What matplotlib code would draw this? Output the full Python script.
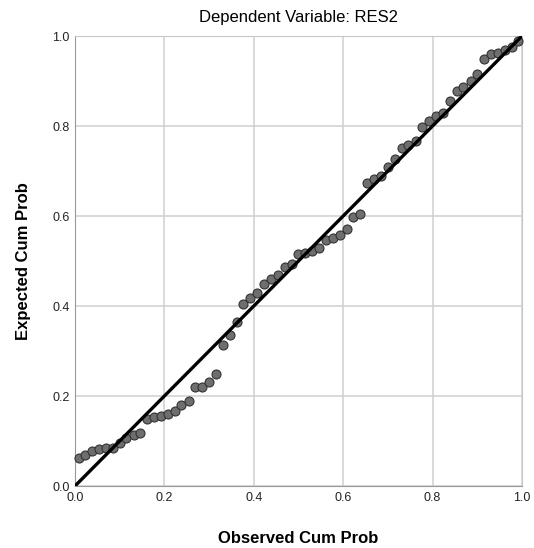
import matplotlib.pyplot as plt

plt.rcParams['font.family'] = ['Liberation Sans', 'DejaVu Sans']

observed = [0.008, 0.023, 0.038, 0.054, 0.069, 0.085, 0.100, 0.115, 0.131, 0.146,
            0.162, 0.177, 0.192, 0.208, 0.223, 0.238, 0.254, 0.269, 0.285, 0.300,
            0.315, 0.331, 0.346, 0.362, 0.377, 0.392, 0.408, 0.423, 0.438, 0.454,
            0.469, 0.485, 0.500, 0.515, 0.531, 0.546, 0.562, 0.577, 0.592, 0.608,
            0.623, 0.638, 0.654, 0.669, 0.685, 0.700, 0.715, 0.731, 0.746, 0.762,
            0.777, 0.792, 0.808, 0.823, 0.838, 0.854, 0.869, 0.885, 0.900, 0.915,
            0.931, 0.946, 0.962, 0.977, 0.992]
expected = [0.062, 0.070, 0.078, 0.082, 0.084, 0.085, 0.095, 0.106, 0.113, 0.117,
            0.150, 0.154, 0.156, 0.159, 0.167, 0.180, 0.189, 0.219, 0.221, 0.232,
            0.249, 0.313, 0.336, 0.365, 0.404, 0.417, 0.430, 0.448, 0.460, 0.469,
            0.486, 0.493, 0.516, 0.518, 0.523, 0.530, 0.546, 0.551, 0.558, 0.572,
            0.598, 0.604, 0.673, 0.682, 0.688, 0.710, 0.726, 0.752, 0.758, 0.767,
            0.797, 0.811, 0.823, 0.828, 0.856, 0.878, 0.887, 0.901, 0.915, 0.948,
            0.959, 0.962, 0.969, 0.976, 0.989]
ticks = [0.0, 0.2, 0.4, 0.6, 0.8, 1.0]
tick_labels = ['0.0', '0.2', '0.4', '0.6', '0.8', '1.0']

fig = plt.figure(figsize=(5.34, 5.48), dpi=100)
ax = fig.add_axes([0.1404, 0.1131, 0.8371, 0.8212])

ax.set_xlim(0, 1)
ax.set_ylim(0, 1)
ax.set_xticks(ticks)
ax.set_yticks(ticks)
ax.set_xticklabels(tick_labels)
ax.set_yticklabels(tick_labels)
ax.tick_params(length=0, labelsize=9, colors='#222222', pad=4)
ax.grid(True, color='#d0d0d0', linewidth=1.1)
ax.set_axisbelow(True)
for s in ax.spines.values():
    s.set_color('#c8c8c8')
ax.spines['left'].set_color('#999999')
ax.spines['bottom'].set_color('#999999')

ax.scatter(observed, expected, s=42, facecolor='#6e6e6e', edgecolor='#333333',
           linewidth=0.8, zorder=3, clip_on=False)
ax.plot([0, 1], [0, 1], color='black', linewidth=2.4, zorder=4, solid_capstyle='butt')

ax.set_title('Dependent Variable: RES2', fontsize=12, pad=10, color='black')
ax.set_xlabel('Observed Cum Prob', fontsize=12, fontweight='bold', labelpad=20)
ax.set_ylabel('Expected Cum Prob', fontsize=12, fontweight='bold', labelpad=15)

fig.savefig('out.png', dpi=100)
